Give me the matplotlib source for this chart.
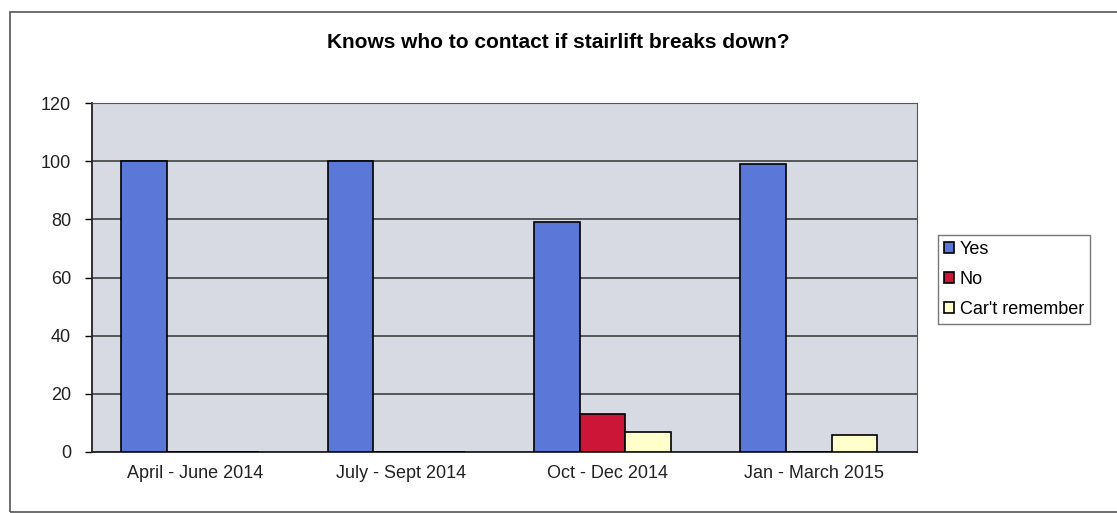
import matplotlib.pyplot as plt
import numpy as np
from matplotlib.patches import Rectangle

plt.rcParams['font.family'] = ['Liberation Sans', 'DejaVu Sans']

# data
quarters = ['April - June 2014', 'July - Sept 2014', 'Oct - Dec 2014', 'Jan - March 2015']
series_names = ['Yes', 'No', "Car't remember"]
yes_vals = [100, 100, 79, 99]
no_vals = [0, 0, 13, 0]
cant_vals = [0, 0, 7, 6]
yticks = [0, 20, 40, 60, 80, 100, 120]

colors = ['#5b78d8', '#cc1638', '#ffffcc']

fig = plt.figure(figsize=(11.17, 5.13), dpi=100)
fig.patch.set_facecolor('white')

# outer chart frame
fig.add_artist(Rectangle((10 / 1117, 0.002), 1.2, 1 - 12 / 513 - 0.002,
                         transform=fig.transFigure, fill=False,
                         edgecolor='#555555', linewidth=1.2))

ax = fig.add_axes([92 / 1117, 1 - 452 / 513, (917 - 92) / 1117, (452 - 103) / 513])
ax.set_facecolor('#d8dae3')

x = np.arange(len(quarters))
w = 0.222
offset = -0.025
for i, (vals, name) in enumerate(zip([yes_vals, no_vals, cant_vals], series_names)):
    ax.bar(x + offset + (i - 1) * w, vals, width=w, color=colors[i],
           edgecolor='black', linewidth=1.2, label=name, zorder=3)

ax.set_xlim(-0.5, len(quarters) - 0.5)
ax.set_ylim(0, 120)
ax.set_yticks(yticks)
ax.set_yticklabels([str(t) for t in yticks], fontsize=13, color='#222222')
ax.set_xticks(x)
ax.set_xticklabels(quarters, fontsize=13, color='#222222')
ax.yaxis.grid(True, color='#333333', linewidth=1.1, zorder=1)
ax.set_axisbelow(True)
ax.tick_params(axis='y', length=5, width=1, direction='out', pad=10)
ax.tick_params(axis='x', length=0, pad=9)
for side in ['top', 'right']:
    ax.spines[side].set_color('#555555')
for side in ['left', 'bottom']:
    ax.spines[side].set_color('#222222')
    ax.spines[side].set_linewidth(1.3)

fig.text(0.5, 1 - 43 / 513, 'Knows who to contact if stairlift breaks down?',
         ha='center', va='center', fontsize=15, fontweight='bold')

leg = fig.legend(loc='upper left', bbox_to_anchor=(938 / 1117, 1 - 235 / 513),
                 frameon=True, fancybox=False, fontsize=13, handlelength=0.55,
                 handleheight=0.55, handletextpad=0.3, labelspacing=0.7,
                 borderpad=0.35, borderaxespad=0)
leg.get_frame().set_edgecolor('#555555')
leg.get_frame().set_linewidth(1.0)

plt.savefig('out.png', dpi=100, facecolor='white')
